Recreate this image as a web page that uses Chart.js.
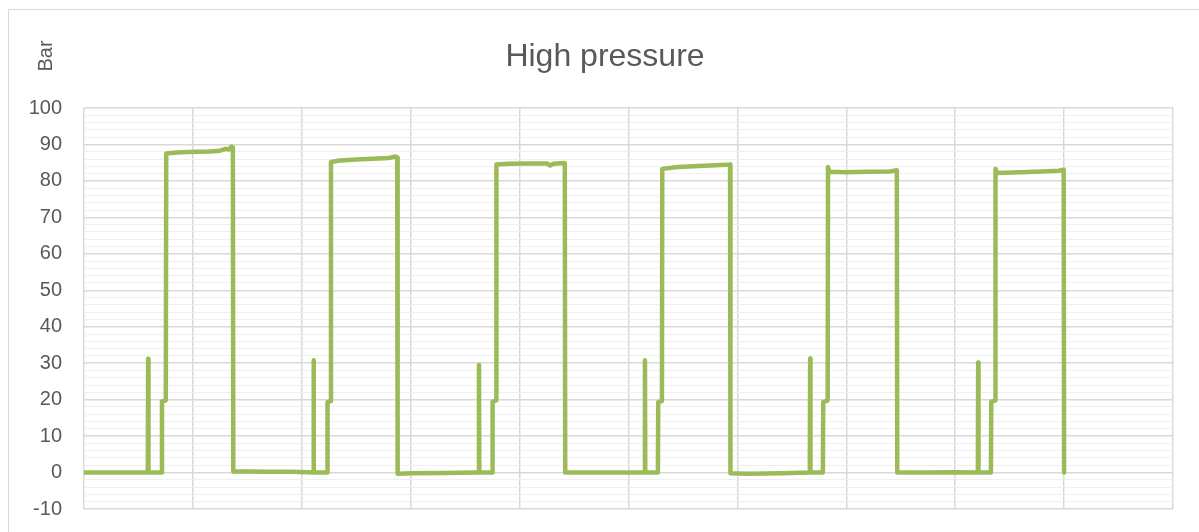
<!DOCTYPE html>
<html>
<head>
<meta charset="utf-8">
<title>High pressure</title>
<script src="https://cdn.jsdelivr.net/npm/chart.js@4/dist/chart.umd.min.js"></script>
<style>
  html, body { margin: 0; padding: 0; background: #ffffff; }
  #wrap { position: relative; width: 1199px; height: 532px; overflow: hidden; }
  #frame { position: absolute; left: 8px; top: 9px; width: 1300px; height: 600px;
           border: 1px solid #d9d9d9; box-sizing: border-box; pointer-events: none; }
  canvas { position: absolute; left: 0; top: 0; }
</style>
</head>
<body>
<div id="wrap">
  <div id="frame"></div>
  <canvas id="chart" width="1199" height="532"></canvas>
</div>
<script>
// Sample index (time axis, 0..1000) and high-side pressure in bar
const timeIndex = [
  0, 58.6, 58.9, 59.2, 71.4, 71.6, 75.1, 75.5, 85, 95, 105, 115, 125, 130, 133, 135.5, 136.7, 137.1,
  150, 170, 190, 205, 210.5, 210.8, 211.1, 223.3, 223.6, 226.5, 226.8, 235, 250, 265, 280, 286, 287.6, 288.0,
  300, 330, 360, 362.4, 362.7, 363.0, 374.9, 375.2, 378.4, 378.7, 390, 410, 425, 428, 431, 441.5, 441.9,
  470, 500, 514.8, 515.1, 515.4, 527.0, 527.3, 530.7, 531.0, 545, 560, 575, 590, 593.3, 593.6,
  610, 640, 666.5, 666.8, 667.1, 678.5, 678.8, 682.9, 683.2, 684.5, 700, 720, 740, 746.4, 746.8,
  770, 800, 820.8, 821.1, 821.4, 832.8, 833.1, 836.7, 837.0, 838.5, 860, 880, 895, 899.6, 900.0
];
const pressureBar = [
  0, 0, 31.2, 0, 0, 19.5, 19.8, 87.5, 87.8, 87.9, 88.0, 88.1, 88.3, 88.8, 88.6, 89.4, 89.2, 0.3,
  0.3, 0.2, 0.2, 0.1, 0, 30.8, 0, 0, 19.3, 19.6, 85.2, 85.6, 85.9, 86.1, 86.3, 86.7, 86.4, -0.3,
  -0.2, -0.1, 0, 0, 29.5, 0, 0, 19.4, 19.8, 84.5, 84.7, 84.8, 84.8, 84.2, 84.7, 84.9, 0,
  0, 0, 0, 30.8, 0, 0, 19.3, 19.6, 83.3, 83.8, 84.0, 84.2, 84.4, 84.5, -0.2,
  -0.3, -0.2, 0, 31.3, 0, 0, 19.3, 19.8, 83.8, 82.5, 82.4, 82.5, 82.6, 82.9, 0,
  0, 0.1, 0, 30.2, 0, 0, 19.4, 19.8, 83.3, 82.2, 82.4, 82.6, 82.8, 83.1, 0
];
const yTickLabels = ['-10', '0', '10', '20', '30', '40', '50', '60', '70', '80', '90', '100'];
const chartTitle = 'High pressure';
const unitLabel = 'Bar';

const textGrey = '#595959';
const lineGreen = '#9bbb59';

// Title and rotated unit label, drawn on the canvas after the chart
const headerText = {
  id: 'headerText',
  afterDraw(chart) {
    const ctx = chart.ctx;
    ctx.save();
    ctx.fillStyle = textGrey;
    ctx.font = '32px "Liberation Sans", Arial, sans-serif';
    ctx.textAlign = 'center';
    ctx.textBaseline = 'alphabetic';
    ctx.fillText(chartTitle, 605, 66);
    ctx.translate(52, 56);
    ctx.rotate(-Math.PI / 2);
    ctx.font = '20px "Liberation Sans", Arial, sans-serif';
    ctx.textAlign = 'center';
    ctx.fillText(unitLabel, 0, 0);
    ctx.restore();
  }
};

new Chart(document.getElementById('chart'), {
  type: 'line',
  data: {
    datasets: [{
      data: timeIndex.map((x, i) => ({ x: x, y: pressureBar[i] })),
      borderColor: lineGreen,
      borderWidth: 4.5,
      pointRadius: 0,
      tension: 0,
      fill: false,
      borderJoinStyle: 'round',
      borderCapStyle: 'round'
    }]
  },
  options: {
    responsive: false,
    animation: false,
    layout: { padding: { left: 0, top: 108, right: 26, bottom: 23 } },
    plugins: { legend: { display: false }, tooltip: { enabled: false }, title: { display: false } },
    scales: {
      x: {
        type: 'linear',
        min: 0,
        max: 1000,
        afterFit(s) { s.height = 0; },
        ticks: { display: false, stepSize: 100 },
        grid: { color: '#d9d9d9', lineWidth: 1.5, drawTicks: false },
        border: { display: false }
      },
      y: {
        min: -10,
        max: 100,
        afterFit(s) { s.width = 84; s.paddingTop = 0; s.paddingBottom = 0; },
        ticks: {
          stepSize: 2,
          autoSkip: false,
          padding: 22,
          color: textGrey,
          font: { family: '"Liberation Sans", Arial, sans-serif', size: 20 },
          callback(v) {
            return yTickLabels.includes(String(v)) ? String(v) : '';
          }
        },
        grid: {
          drawTicks: false,
          color(c) { return c.tick && c.tick.value % 10 === 0 ? '#d9d9d9' : '#efefef'; },
          lineWidth(c) { return c.tick && c.tick.value % 10 === 0 ? 1.5 : 1; }
        },
        border: { display: false }
      }
    }
  },
  plugins: [headerText]
});
</script>
</body>
</html>
